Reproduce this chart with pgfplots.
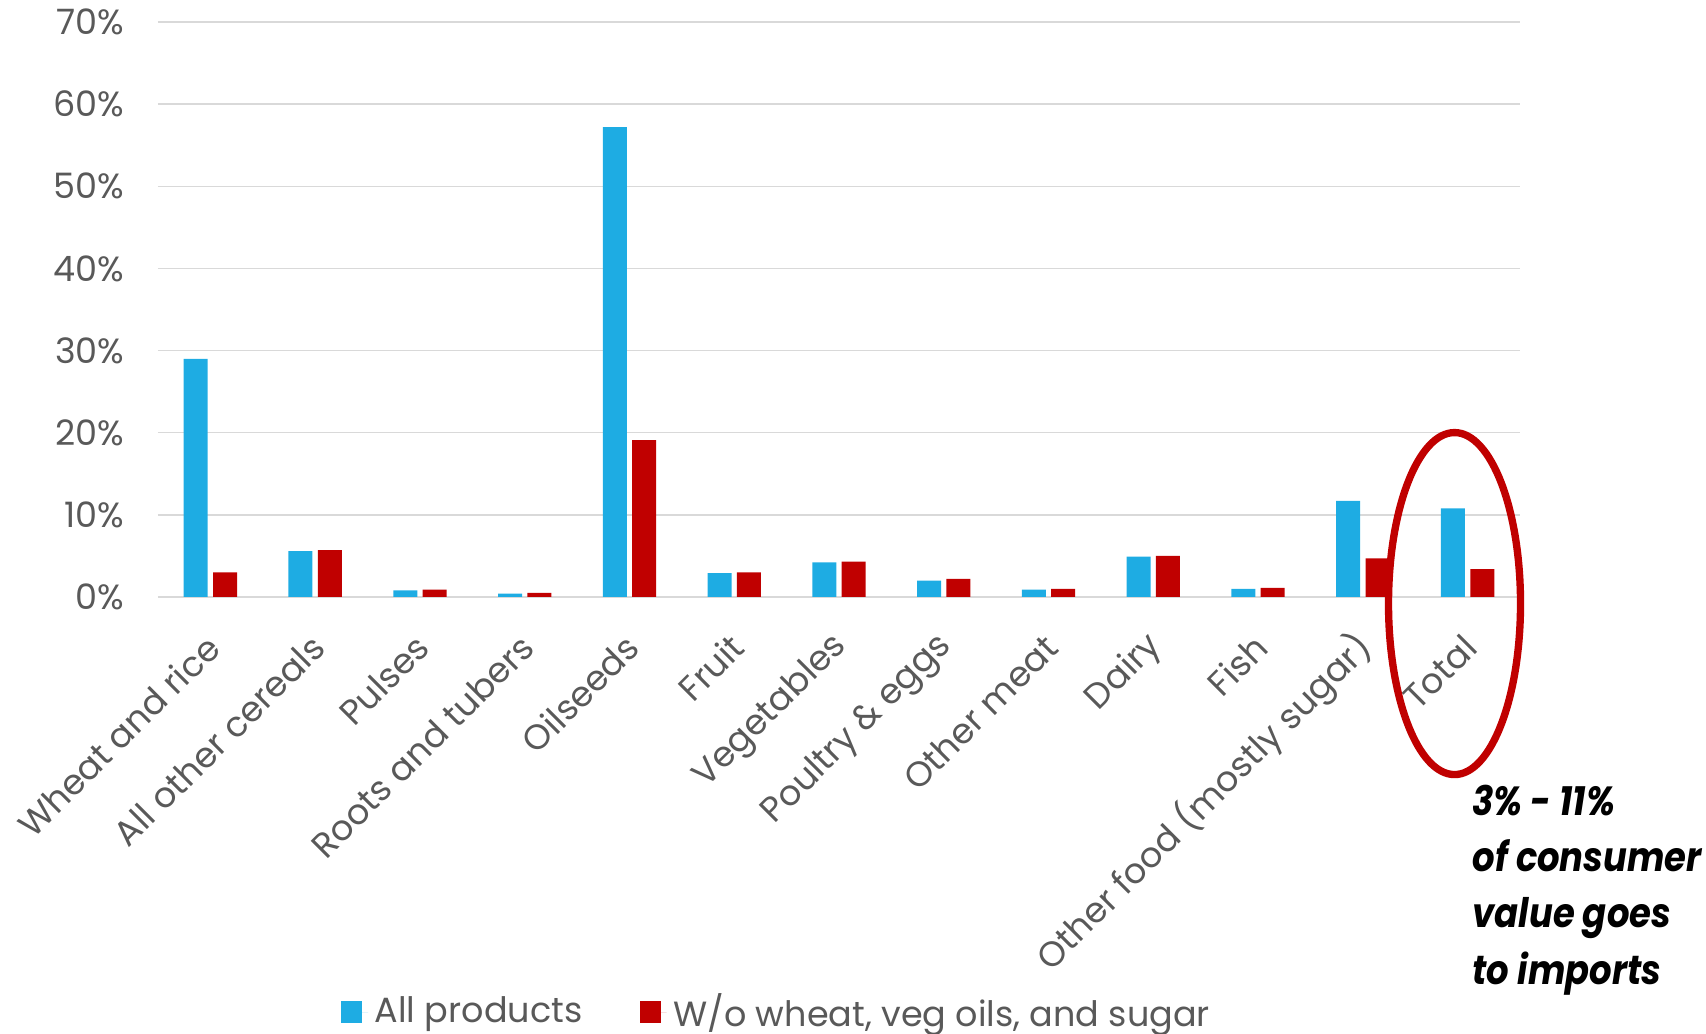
\documentclass[border=0pt]{standalone}
\usepackage{pgfplots}
\pgfplotsset{compat=1.18}
\usepackage{pgfplotstable}
\usepackage{fontspec}
\setmainfont{Poppins}

\definecolor{allprod}{HTML}{1EACE3}
\definecolor{subset}{HTML}{C00000}
\definecolor{gridgray}{HTML}{D9D9D9}
\definecolor{labelgray}{HTML}{595959}

% import share of consumer value, in percent
\pgfplotstableread{
idx all wo
0  29.0  3.0
1   5.6  5.7
2   0.8  0.9
3   0.4  0.5
4  57.2 19.1
5   2.9  3.0
6   4.2  4.3
7   2.0  2.2
8   0.9  1.0
9   4.9  5.0
10  1.0  1.1
11 11.7  4.7
12 10.8  3.4
}\shares

\begin{document}
\begin{tikzpicture}
\path[use as bounding box] (-47.4pt,-131.1pt) rectangle (464.4pt,179.1pt);
\begin{axis}[
  at={(0,0)}, anchor=south west,
  scale only axis, width=408.6pt, height=172.5pt,
  xmin=-0.5, xmax=12.5, ymin=0, ymax=70,
  axis line style={draw=none},
  major tick length=0pt,
  ytick={0,10,...,70},
  yticklabel={\pgfmathprintnumber{\tick}\%},
  /pgf/number format/assume math mode=true,
  ymajorgrids, grid style={gridgray, line width=0.45pt},
  xtick={0,...,12},
  xticklabels={Wheat and rice, All other cereals, Pulses, Roots and tubers,
    Oilseeds, Fruit, Vegetables, Poultry \& eggs, Other meat, Dairy, Fish,
    Other food (mostly sugar), Total},
  tick label style={font=\fontsize{10.5}{12}\selectfont, text=labelgray},
  x tick label style={rotate=45, anchor=east, xshift=-5.3pt, yshift=-10pt},
  y tick label style={xshift=-6.6pt},
  ybar=1.6pt, bar width=7.2pt,
  clip=false,
  legend columns=2,
  legend style={at={(0.456,-0.722)}, anchor=center, draw=none,
    font=\fontsize{10.5}{12}\selectfont, text=labelgray,
    /tikz/every even column/.append style={column sep=15.3pt}},
  legend image code/.code={\fill[#1] (0pt,-3.2pt) rectangle (6.2pt,3.2pt);
    \path (6.2pt,0pt) -- (8pt,0pt);},
]
\addplot[fill=allprod, draw=none] table[x=idx, y=all] {\shares};
\addplot[fill=subset, draw=none] table[x=idx, y=wo] {\shares};
\legend{All products, W/o wheat{,} veg oils{,} and sugar}
% ring round the total
\draw[subset, line width=2.2pt] (axis cs:11.875,-0.8) ellipse [x radius=19.8pt, y radius=51.3pt];
\end{axis}
\node[anchor=base west, align=left, inner sep=0pt, xscale=0.87, transform shape,
      font=\fontsize{12.2}{16.9}\selectfont\bfseries\itshape]
  at (394.2pt,-116.2pt) {3\% - 11\%\\of consumer\\value goes\\to imports};
\end{tikzpicture}
\end{document}
